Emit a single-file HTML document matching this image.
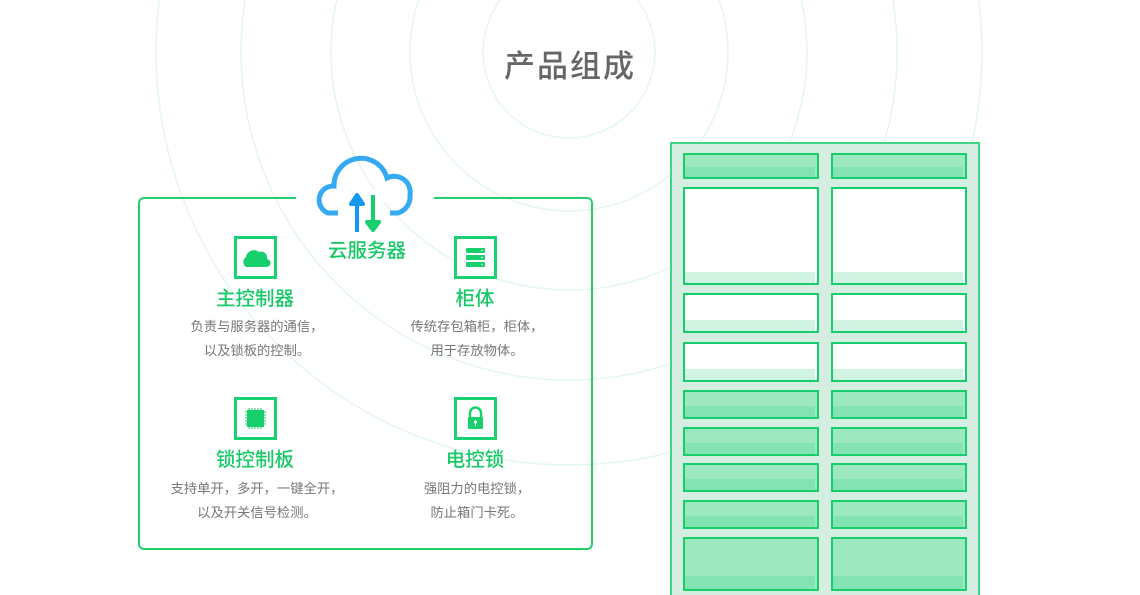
<!DOCTYPE html>
<html><head><meta charset="utf-8"><style>
*{margin:0;padding:0;box-sizing:border-box}
html,body{width:1140px;height:595px;overflow:hidden}
body{background:#fff;position:relative;font-family:"Liberation Sans","Noto Sans CJK SC",sans-serif}
.a{position:absolute}
.title{left:0;width:1140px;top:46px;text-align:center;font-size:31px;color:#666;letter-spacing:2px;line-height:42px;font-weight:500}
.box{left:138px;top:197px;width:455px;height:353px;border:2px solid #22cf6c;border-radius:6px}
.gap{left:296px;top:190px;width:138px;height:12px;background:#fff}
.ic{width:43px;height:43px;border:3px solid #18d170;background:#fff}
.h{font-size:19.5px;color:#18c968;text-align:center;width:220px;line-height:24px;font-weight:500}
.d{font-size:13.3px;color:#777;text-align:center;width:260px;line-height:24px}
.cab{left:670px;top:142px;width:310px;height:460px;background:#d6eee2;border:2px solid #3ed682}
.dr{border:2px solid #16cf6c;background:#9de8c1;overflow:hidden}
.dr i{position:absolute;left:0;right:2px;bottom:0;height:45%;background:#84e3b2}
.w{background:#fff}
.w i{background:#d1f4e2;height:11px}
</style></head><body>
<svg class="a" style="left:0;top:0" width="1140" height="595">
<g fill="none" stroke="#e4f7ef" stroke-width="1.5">
<circle cx="569" cy="52" r="86"/><circle cx="569" cy="52" r="159"/><circle cx="569" cy="52" r="238"/><circle cx="569" cy="52" r="328"/><circle cx="569" cy="52" r="413"/>
</g></svg>
<div class="a title">产品组成</div>
<div class="a box"></div>
<div class="a gap"></div>
<svg class="a" style="left:312px;top:150px" width="106" height="85">
<path d="M26 63 H16 A14 14 0 0 1 22 36 A27 27 0 0 1 75 28 A16 16 0 0 1 98 45 A17 17 0 0 1 86 63 H78" fill="none" stroke="#36a9f3" stroke-width="5"/>
<path d="M45 82 V54 H39 L45 45 L51 54 H45" fill="#1499f0" stroke="#1499f0" stroke-width="4" stroke-linejoin="round"/>
<path d="M61 45 V72 H55 L61 80 L67 72 H61" fill="#18cf6e" stroke="#18cf6e" stroke-width="4" stroke-linejoin="round"/>
</svg>
<div class="a h" style="left:257px;top:239px">云服务器</div>

<div class="a ic" style="left:234px;top:236px"><svg width="37" height="37"><path d="M9 28 A6 6 0 0 1 9 18 A8 8 0 0 1 22 13 A6 6 0 0 1 30 20 A4 4 0 0 1 29 28Z" fill="#18cf6e"/></svg></div>
<div class="a ic" style="left:454px;top:236px"><svg width="37" height="37"><rect x="9" y="9" width="19" height="5" rx="1" fill="#18cf6e"/><rect x="9" y="16" width="19" height="5" rx="1" fill="#18cf6e"/><rect x="9" y="23" width="19" height="5" rx="1" fill="#18cf6e"/><circle cx="25" cy="11.5" r=".8" fill="#fff"/><circle cx="25" cy="18.5" r=".8" fill="#fff"/><circle cx="25" cy="25.5" r=".8" fill="#fff"/></svg></div>
<div class="a ic" style="left:234px;top:397px"><svg width="37" height="37"><rect x="10" y="10" width="17" height="17" fill="#18cf6e"/><path d="M12 8v21M15 8v21M18 8v21M21 8v21M24 8v21M8 12h21M8 15h21M8 18h21M8 21h21M8 24h21" stroke="#18cf6e" stroke-width="1"/></svg></div>
<div class="a ic" style="left:454px;top:397px"><svg width="37" height="37"><path d="M13 17 V13 A5.5 5.5 0 0 1 24 13 V17" fill="none" stroke="#18cf6e" stroke-width="2.5"/><rect x="11" y="17" width="15" height="12" rx="1" fill="#18cf6e"/><circle cx="18.5" cy="22" r="1.5" fill="#fff"/><rect x="18" y="22" width="1" height="4" fill="#fff"/></svg></div>

<div class="a h" style="left:145px;top:287px">主控制器</div>
<div class="a d" style="left:127px;top:315px">负责与服务器的通信，<br>以及锁板的控制。</div>
<div class="a h" style="left:365px;top:287px">柜体</div>
<div class="a d" style="left:347px;top:315px">传统存包箱柜，柜体，<br>用于存放物体。</div>
<div class="a h" style="left:145px;top:448px">锁控制板</div>
<div class="a d" style="left:127px;top:477px">支持单开，多开，一键全开，<br>以及开关信号检测。</div>
<div class="a h" style="left:365px;top:448px">电控锁</div>
<div class="a d" style="left:347px;top:477px">强阻力的电控锁，<br>防止箱门卡死。</div>

<div class="a cab"></div>
<div class="a dr" style="left:683px;top:153px;width:136px;height:26px"><i></i></div>
<div class="a dr" style="left:831px;top:153px;width:136px;height:26px"><i></i></div>
<div class="a dr w" style="left:683px;top:187px;width:136px;height:98px"><i></i></div>
<div class="a dr w" style="left:831px;top:187px;width:136px;height:98px"><i></i></div>
<div class="a dr w" style="left:683px;top:293px;width:136px;height:40px"><i></i></div>
<div class="a dr w" style="left:831px;top:293px;width:136px;height:40px"><i></i></div>
<div class="a dr w" style="left:683px;top:342px;width:136px;height:40px"><i></i></div>
<div class="a dr w" style="left:831px;top:342px;width:136px;height:40px"><i></i></div>
<div class="a dr" style="left:683px;top:390px;width:136px;height:29px"><i></i></div>
<div class="a dr" style="left:831px;top:390px;width:136px;height:29px"><i></i></div>
<div class="a dr" style="left:683px;top:427px;width:136px;height:29px"><i></i></div>
<div class="a dr" style="left:831px;top:427px;width:136px;height:29px"><i></i></div>
<div class="a dr" style="left:683px;top:463px;width:136px;height:29px"><i></i></div>
<div class="a dr" style="left:831px;top:463px;width:136px;height:29px"><i></i></div>
<div class="a dr" style="left:683px;top:500px;width:136px;height:29px"><i></i></div>
<div class="a dr" style="left:831px;top:500px;width:136px;height:29px"><i></i></div>
<div class="a dr" style="left:683px;top:537px;width:136px;height:54px"><i style="height:13px"></i></div>
<div class="a dr" style="left:831px;top:537px;width:136px;height:54px"><i style="height:13px"></i></div>
</body></html>
